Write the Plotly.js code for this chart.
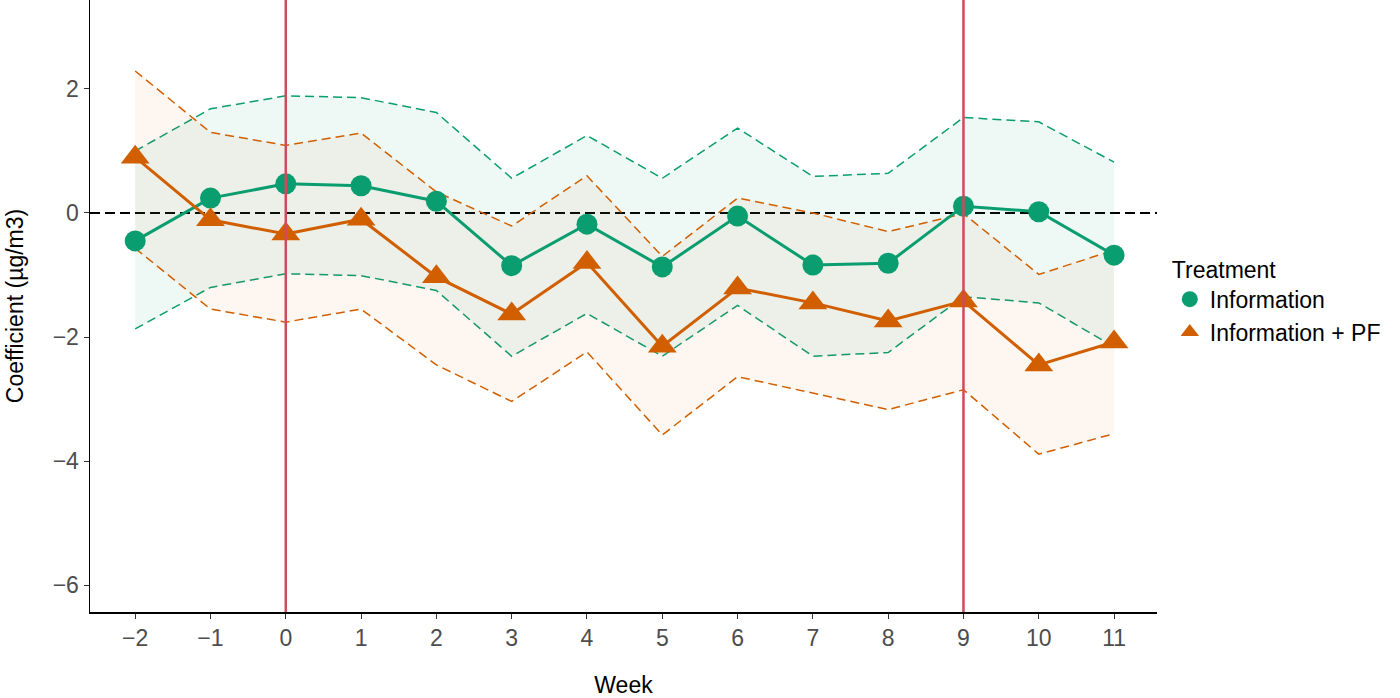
<!DOCTYPE html>
<html><head><meta charset="utf-8">
<script src="https://cdn.plot.ly/plotly-3.0.1.min.js"></script>
<style>html,body{margin:0;padding:0;background:#fff}#chart{width:1400px;height:698px}</style>
</head><body><div id="chart"></div>
<script>
const weeks = [-2,-1,0,1,2,3,4,5,6,7,8,9,10,11];
const infoCoef  = [-0.45,0.24,0.47,0.44,0.19,-0.85,-0.18,-0.87,-0.05,-0.84,-0.81,0.11,0.02,-0.68];
const infoUpper = [1.00,1.68,1.89,1.86,1.62,0.56,1.25,0.56,1.37,0.59,0.64,1.54,1.47,0.82];
const infoLower = [-1.87,-1.20,-0.98,-1.01,-1.25,-2.31,-1.62,-2.31,-1.49,-2.31,-2.25,-1.35,-1.45,-2.16];
const pfCoef  = [0.90,-0.11,-0.34,-0.10,-1.03,-1.63,-0.80,-2.15,-1.21,-1.45,-1.74,-1.42,-2.45,-2.08];
const pfUpper = [2.29,1.30,1.09,1.29,0.34,-0.21,0.60,-0.70,0.24,0.00,-0.30,-0.01,-0.99,-0.60];
const pfLower = [-0.57,-1.55,-1.76,-1.55,-2.45,-3.04,-2.24,-3.58,-2.64,-2.90,-3.17,-2.85,-3.89,-3.56];
const seriesNames = ["Information","Information + PF"];
const vlines = [0, 9];
const hline = 0;
const xTicks = [-2,-1,0,1,2,3,4,5,6,7,8,9,10,11];
const yTicks = [-6,-4,-2,0,2];

const green = "#0A9D6F", orange = "#D15F00";
const greenFill = "rgba(0,158,115,0.065)", orangeFill = "rgba(213,94,0,0.055)";

function ribbon(lower, upper, color, fill, name){
  return [
    {x: weeks, y: lower, mode:"lines", line:{color:color, width:1.5, dash:"9px,5px"}, showlegend:false, hoverinfo:"skip", legendgroup:name},
    {x: weeks, y: upper, mode:"lines", line:{color:color, width:1.5, dash:"9px,5px"}, fill:"tonexty", fillcolor:fill, showlegend:false, hoverinfo:"skip", legendgroup:name}
  ];
}

const traces = [
  ...ribbon(infoLower, infoUpper, green, greenFill, seriesNames[0]),
  ...ribbon(pfLower, pfUpper, orange, orangeFill, seriesNames[1]),
  {x: weeks, y: infoCoef, mode:"lines+markers", name: seriesNames[0], line:{color:green, width:3}, marker:{color:green, size:21, symbol:"circle"}, showlegend:false, legendgroup:seriesNames[0]},
  {x: weeks, y: pfCoef, mode:"lines+markers", name: seriesNames[1], line:{color:orange, width:3}, marker:{color:orange, size:25, symbol:"triangle-up"}, showlegend:false, legendgroup:seriesNames[1]},
  {x:[null], y:[null], mode:"markers", name: seriesNames[0], marker:{color:green, size:20, symbol:"circle"}, legendgroup:seriesNames[0]},
  {x:[null], y:[null], mode:"markers", name: seriesNames[1], marker:{color:orange, size:22, symbol:"triangle-up"}, legendgroup:seriesNames[1]}
];

const shapes = [
  ...vlines.map(v => ({type:"line", xref:"x", yref:"paper", x0:v, x1:v, y0:0, y1:1, line:{color:"#D1495B", width:2.5}, layer:"above"})),
  {type:"line", xref:"paper", yref:"y", x0:0, x1:1, y0:hline, y1:hline, line:{color:"#000", width:1.8, dash:"10px,5px"}, layer:"below"}
];

const layout = {
  width:1400, height:698,
  margin:{l:90, r:243, t:0, b:86},
  paper_bgcolor:"#fff", plot_bgcolor:"#fff",
  font:{family:"Liberation Sans, Arial, sans-serif", size:23, color:"#000"},
  xaxis:{range:[-2.6,11.57], tickvals:xTicks, showgrid:false, zeroline:false, showline:true, linecolor:"#000", linewidth:1.5,
         ticks:"outside", ticklen:5, tickcolor:"#333", tickfont:{size:23, color:"#4d4d4d"},
         title:{text:"Week", font:{size:23, color:"#000"}, standoff:34}},
  yaxis:{range:[-6.435,3.435], tickvals:yTicks, showgrid:false, zeroline:false, showline:true, linecolor:"#000", linewidth:1.5,
         ticks:"outside", ticklen:5, tickcolor:"#333", tickfont:{size:23, color:"#4d4d4d"},
         title:{text:"Coefficient (µg/m3)", font:{size:23, color:"#000"}, standoff:22}},
  legend:{x:1.012, y:0.595, xanchor:"left", yanchor:"top", title:{text:"Treatment", font:{size:23}}, font:{size:23}, tracegroupgap:0, itemsizing:"trace", bgcolor:"rgba(0,0,0,0)"},
  shapes: shapes,
  showlegend:true
};

Plotly.newPlot("chart", traces, layout, {displayModeBar:false, staticPlot:true});
</script></body></html>
